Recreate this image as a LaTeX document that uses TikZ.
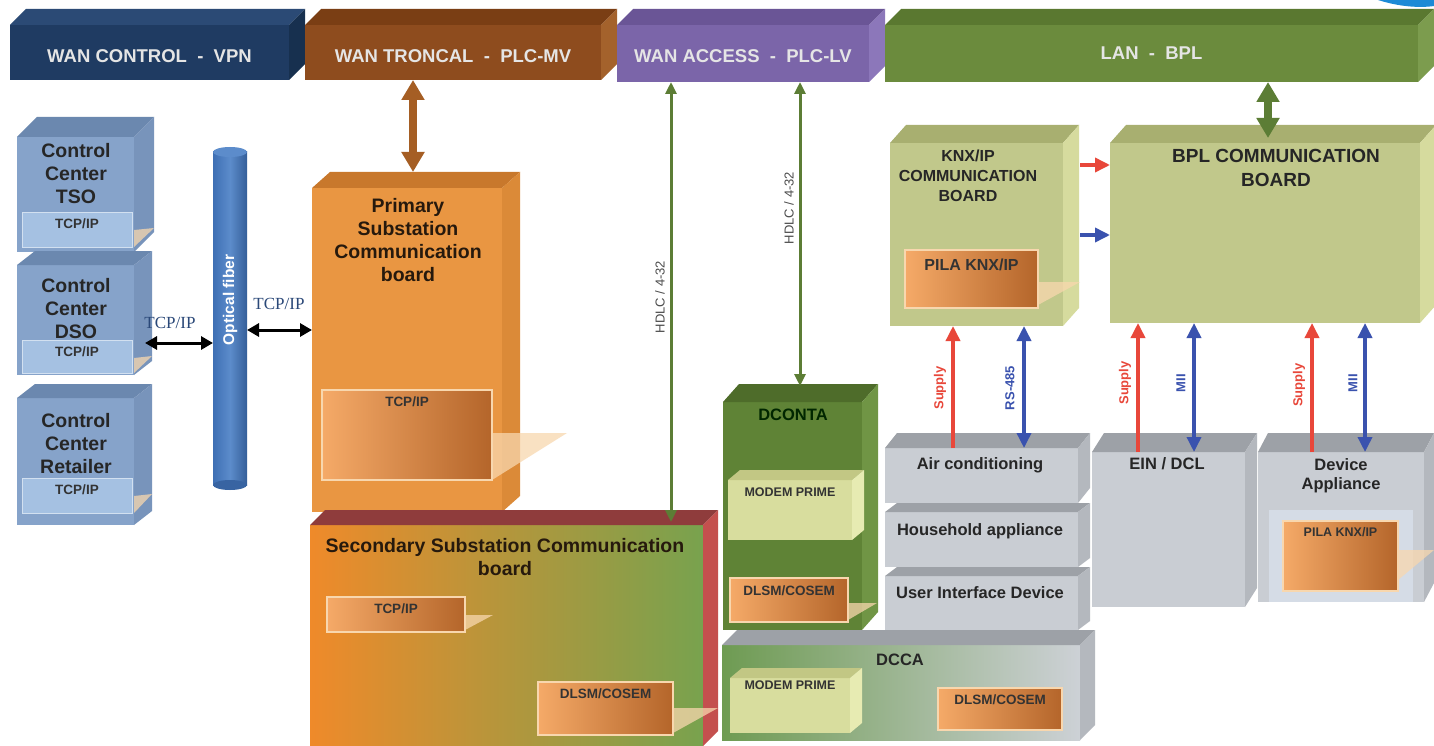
\documentclass[tikz,border=0pt]{standalone}
\usepackage{fontspec}
\setmainfont{Liberation Sans}
\newfontfamily\timesfont{Liberation Serif}
\usetikzlibrary{arrows.meta,calc}

\definecolor{navyF}{HTML}{1F3B62}
\definecolor{navyT}{HTML}{2B4A75}
\definecolor{navyS}{HTML}{17304F}
\definecolor{brownF}{HTML}{8E4C1E}
\definecolor{brownT}{HTML}{7A3E14}
\definecolor{brownS}{HTML}{A4622C}
\definecolor{purpF}{HTML}{7B65A9}
\definecolor{purpT}{HTML}{6A5596}
\definecolor{purpS}{HTML}{8C77BA}
\definecolor{lanF}{HTML}{6B8B3D}
\definecolor{lanT}{HTML}{5A7830}
\definecolor{lanS}{HTML}{7C9C4E}
\definecolor{ccF}{HTML}{86A3CA}
\definecolor{ccT}{HTML}{6B88AF}
\definecolor{ccS}{HTML}{7894BB}
\definecolor{ccSub}{HTML}{A5C1E2}
\definecolor{fibF}{HTML}{3E6FB4}
\definecolor{fibT}{HTML}{5C8CCB}
\definecolor{primF}{HTML}{E99642}
\definecolor{primT}{HTML}{C8782C}
\definecolor{primS}{HTML}{DB8A38}
\definecolor{subL}{HTML}{F5AA68}
\definecolor{subD}{HTML}{B4652A}
\definecolor{subE}{HTML}{F8D7AE}
\definecolor{secL}{HTML}{EF8A2A}
\definecolor{secR}{HTML}{78A24E}
\definecolor{secT}{HTML}{8F3C3C}
\definecolor{secS}{HTML}{C4504E}
\definecolor{dcF}{HTML}{5F8336}
\definecolor{dcT}{HTML}{4E6C2A}
\definecolor{dcS}{HTML}{709545}
\definecolor{modF}{HTML}{D8DD9E}
\definecolor{modT}{HTML}{C2C784}
\definecolor{modS}{HTML}{E7EBB2}
\definecolor{ccaL}{HTML}{6E9B52}
\definecolor{ccaR}{HTML}{CDD1D6}
\definecolor{greyF}{HTML}{C9CDD3}
\definecolor{greyT}{HTML}{9DA1A7}
\definecolor{greyS}{HTML}{B4B8BE}
\definecolor{greyIn}{HTML}{D5DCE6}
\definecolor{knxF}{HTML}{C1C88B}
\definecolor{knxT}{HTML}{A8AF70}
\definecolor{knxS}{HTML}{D6DB9E}
\definecolor{arrBrown}{HTML}{A55E24}
\definecolor{arrGreen}{HTML}{5C7D35}
\definecolor{supRed}{HTML}{E8473A}
\definecolor{dataBlue}{HTML}{3A52AE}
\definecolor{tcpBlue}{HTML}{2A4878}
\definecolor{logoBlue}{HTML}{1C8AD6}

\newcommand{\boxfaces}[5]{%
  \fill[#2] (#1.north west) -- ++(#4,-#5) -- ($(#1.north east)+(#4,-#5)$) -- (#1.north east) -- cycle;
  \fill[#3] (#1.north east) -- ++(#4,-#5) -- ($(#1.south east)+(#4,-#5)$) -- (#1.south east) -- cycle;
}

\tikzset{
  face/.style={inner sep=0pt, outer sep=0pt, anchor=north west},
  wh/.style 2 args={minimum width=#1, minimum height=#2},
  bantext/.style={text=white!90!black, font=\bfseries\fontsize{18.5}{22}\selectfont},
  bigtext/.style={anchor=north, inner sep=0pt, align=center, font=\bfseries\fontsize{19.5}{23}\selectfont},
  midtext/.style={anchor=north, inner sep=0pt, align=center, text=black!85, font=\bfseries\fontsize{16.5}{19}\selectfont},
  subtext/.style={anchor=north, inner sep=0pt, text=black!80, font=\bfseries\fontsize{13.5}{15}\selectfont},
  modtext/.style={anchor=north, inner sep=0pt, text=black!80, font=\bfseries\fontsize{12.5}{14}\selectfont},
  subbox/.style={face, left color=subL, right color=subD, draw=subE, line width=1.2pt},
  ccbox/.style={face, fill=ccSub, draw=ccSub!50!white, line width=1pt},
  tab/.style={fill=subE, opacity=.75},
  fat/.style={line width=8pt, {Triangle[width=22pt,length=20pt]}-{Triangle[width=22pt,length=20pt]}},
  hdlc/.style={arrGreen, line width=3pt, {Triangle[width=11pt,length=12pt]}-{Triangle[width=11pt,length=12pt]}},
  supply/.style={supRed, line width=3.5pt, -{Triangle[width=14pt,length=15pt]}},
  data/.style={dataBlue, line width=3.5pt, {Triangle[width=14pt,length=15pt]}-{Triangle[width=14pt,length=15pt]}},
  dataone/.style={dataBlue, line width=3.5pt, -{Triangle[width=14pt,length=15pt]}},
  tcparr/.style={black, line width=3pt, {Triangle[width=13pt,length=12pt]}-{Triangle[width=13pt,length=12pt]}},
  tcplabel/.style={text=tcpBlue, font=\timesfont\fontsize{17}{19}\selectfont},
  vlabel/.style={rotate=90, font=\bfseries\fontsize{13}{15}\selectfont},
  hdlctext/.style={rotate=90, text=black!70, font=\fontsize{13}{15}\selectfont}
}

\begin{document}
\begin{tikzpicture}[x=1pt, y=-1pt]
   \useasboundingbox (0,0) rectangle (1434,746);
   \fill[white] (0,0) rectangle (1434,746);
   \fill[logoBlue] (1378,0) .. controls (1400,7) and (1420,8) .. (1434,6) -- (1434,0) -- cycle;

   \node[face, wh={279}{55}, fill=navyF, bantext, text height=20pt] (wanctl) at (10,25) {WAN CONTROL~~-~~VPN};
   \boxfaces{wanctl}{navyT}{navyS}{16}{16}
   \node[face, wh={296}{55}, fill=brownF, bantext, text height=20pt] (wantr) at (305,25) {WAN TRONCAL~~-~~PLC-MV};
   \boxfaces{wantr}{brownT}{brownS}{16}{16}
   \node[face, wh={252}{57}, fill=purpF, bantext, text height=19pt] (wanacc) at (617,25) {WAN ACCESS~~-~~PLC-LV};
   \boxfaces{wanacc}{purpT}{purpS}{16}{16}
   \node[face, wh={533}{57}, fill=lanF, bantext] (lan) at (885,25) {LAN~~-~~BPL};
   \boxfaces{lan}{lanT}{lanS}{16}{16}

   \node[face, wh={117}{115}, fill=ccF] (tso) at (17,137) {};
   \boxfaces{tso}{ccT}{ccS}{20}{20}
   \node[bigtext, text=black!85] (tsotxt) at (76,143) {Control\\Center\\TSO};
   \node[ccbox, wh={110}{35}] (tsoip) at (22,212) {};
   \node[subtext] (tsoiptxt) at ([yshift=-7pt]tsoip.north) {TCP/IP};

   \node[face, wh={117}{110}, fill=ccF] (dso) at (17,265) {};
   \boxfaces{dso}{ccT}{ccS}{18}{14}
   \node[bigtext, text=black!85] (dsotxt) at (76,278) {Control\\Center\\DSO};
   \node[ccbox, wh={110}{33}] (dsoip) at (22,340) {};
   \node[subtext] (dsoiptxt) at ([yshift=-7pt]dsoip.north) {TCP/IP};

   \node[face, wh={117}{127}, fill=ccF] (ret) at (17,398) {};
   \boxfaces{ret}{ccT}{ccS}{18}{14}
   \node[bigtext, text=black!85] (rettxt) at (76,413) {Control\\Center\\Retailer};
   \node[ccbox, wh={110}{35}] (retip) at (22,478) {};
   \node[subtext] (retiptxt) at ([yshift=-7pt]retip.north) {TCP/IP};

   \fill[tab] (134,230) -- (154,228) -- (134,247) -- cycle;
   \fill[tab] (134,358) -- (152,356) -- (134,373) -- cycle;
   \fill[tab] (134,496) -- (152,494) -- (134,513) -- cycle;

   \node[face, wh={34}{333}, left color=fibF, right color=fibF!85!black, middle color=fibT] (fiber) at (213,152) {};
   \fill[fibF!90!black] (fiber.south) ellipse (17 and 5);
   \fill[fibT] (fiber.north) ellipse (17 and 5);
   \node[rotate=90, text=white, font=\bfseries\fontsize{15.5}{17}\selectfont] (fibtxt) at (230,300) {Optical fiber};

   \node[face, wh={190}{324}, fill=primF] (prim) at (312,188) {};
   \boxfaces{prim}{primT}{primS}{18}{16}
   \node[bigtext, text=black!80!brown] (primtxt) at (408,198) {Primary\\Substation\\Communication\\board};
   \node[subbox, wh={170}{90}] (primip) at (322,390) {};
   \node[subtext] (primiptxt) at ([yshift=-7pt]primip.north) {TCP/IP};
   \fill[tab] (492,433) -- (567,433) -- (492,480) -- cycle;

   \node[face, wh={393}{221}, left color=secL, right color=secR] (sec) at (310,525) {};
   \boxfaces{sec}{secT}{secS}{15}{15}
   \node[bigtext, text=black!80!brown] (sectxt) at (505,538) {Secondary Substation Communication\\board};
   \node[subbox, wh={138}{35}] (secip) at (327,597) {};
   \node[subtext] (seciptxt) at ([yshift=-7pt]secip.north) {TCP/IP};
   \fill[tab] (465,615) -- (493,615) -- (465,630) -- cycle;
   \node[subbox, wh={135}{53}] (secdlsm) at (538,682) {};
   \node[subtext] (secdlsmtxt) at ([yshift=-7pt]secdlsm.north) {DLSM/COSEM};
   \fill[tab] (673,708) -- (718,708) -- (673,733) -- cycle;

   \node[face, wh={139}{228}, fill=dcF] (dconta) at (723,402) {};
   \boxfaces{dconta}{dcT}{dcS}{16}{18}
   \node[midtext, text=black!85!green] (dcontatxt) at (793,409) {DCONTA};
   \node[face, wh={124}{60}, fill=modF] (dcmod) at (728,480) {};
   \boxfaces{dcmod}{modT}{modS}{12}{10}
   \node[modtext] (dcmodtxt) at (790,488) {MODEM PRIME};
   \node[subbox, wh={118}{44}] (dcdlsm) at (730,578) {};
   \node[subtext] (dcdlsmtxt) at ([yshift=-8pt]dcdlsm.north) {DLSM/COSEM};
   \fill[tab] (848,603) -- (877,603) -- (848,620) -- cycle;

   \node[face, wh={193}{55}, fill=greyF] (aircon) at (885,448) {};
   \boxfaces{aircon}{greyT}{greyS}{12}{15}
   \node[midtext] (aircontxt) at (980,457) {Air conditioning};
   \node[face, wh={193}{55}, fill=greyF] (house) at (885,512) {};
   \boxfaces{house}{greyT}{greyS}{12}{9}
   \node[midtext] (housetxt) at (980,523) {Household appliance};
   \node[face, wh={193}{54}, fill=greyF] (uid) at (885,576) {};
   \boxfaces{uid}{greyT}{greyS}{12}{9}
   \node[midtext] (uidtxt) at (980,586) {User Interface Device};

   \node[face, wh={153}{155}, fill=greyF] (ein) at (1092,452) {};
   \boxfaces{ein}{greyT}{greyS}{12}{19}
   \node[midtext] (eintxt) at (1167,457) {EIN / DCL};

   \node[face, wh={166}{150}, fill=greyF] (devapp) at (1258,452) {};
   \boxfaces{devapp}{greyT}{greyS}{10}{19}
   \node[midtext] (devapptxt) at (1341,458) {Device\\Appliance};
   \node[face, wh={144}{92}, fill=greyIn] (devin) at (1269,510) {};
   \node[subbox, wh={115}{70}] (devpila) at (1283,521) {};
   \node[modtext] (devpilatxt) at ([yshift=-6pt]devpila.north) {PILA KNX/IP};
   \fill[tab] (1398,550) -- (1434,550) -- (1398,580) -- cycle;

   \node[face, wh={358}{95}, left color=ccaL, right color=ccaR] (dcca) at (722,645) {};
   \boxfaces{dcca}{greyT}{greyS}{15}{15}
   \node[midtext] (dccatxt) at (900,654) {DCCA};
   \node[face, wh={120}{55}, fill=modF] (ccamod) at (730,678) {};
   \boxfaces{ccamod}{modT}{modS}{12}{10}
   \node[modtext] (ccamodtxt) at (790,681) {MODEM PRIME};
   \node[subbox, wh={124}{42}] (ccadlsm) at (938,688) {};
   \node[subtext] (ccadlsmtxt) at ([yshift=-7pt]ccadlsm.north) {DLSM/COSEM};

   \node[face, wh={173}{183}, fill=knxF] (knx) at (890,143) {};
   \boxfaces{knx}{knxT}{knxS}{16}{18}
   \node[midtext, font=\bfseries\fontsize{16}{20}\selectfont] (knxtxt) at (968,150) {KNX/IP\\COMMUNICATION\\BOARD};
   \node[subbox, wh={133}{58}] (knxpila) at (905,250) {};
   \node[subtext, font=\bfseries\fontsize{16}{18}\selectfont] (knxpilatxt) at ([yshift=-9pt]knxpila.north) {PILA KNX/IP};
   \fill[tab] (1038,282) -- (1080,282) -- (1038,305) -- cycle;

   \node[face, wh={310}{180}, fill=knxF] (bpl) at (1110,143) {};
   \boxfaces{bpl}{knxT}{knxS}{16}{18}
   \node[midtext, font=\bfseries\fontsize{19}{24}\selectfont] (bpltxt) at (1276,149) {BPL COMMUNICATION\\BOARD};

   \coordinate (tr) at (413,0);
   \draw[fat, arrBrown] (wantr.south -| tr) -- ($(prim.north -| tr)+(0,-16)$);
   \coordinate (lb) at (1268,0);
   \draw[fat, arrGreen] (lan.south -| lb) -- ($(bpl.north -| lb)+(0,-5)$);

   \coordinate (hd1) at (671,0);
   \draw[hdlc] (wanacc.south -| hd1) -- ($(sec.north -| hd1)+(0,-3)$);
   \node[hdlctext] (hd1txt) at (660,297) {HDLC / 4-32};
   \coordinate (hd2) at (800,0);
   \draw[hdlc] (wanacc.south -| hd2) -- ($(dconta.north -| hd2)+(0,-16)$);
   \node[hdlctext] (hd2txt) at (789,208) {HDLC / 4-32};

   \coordinate (ccport) at (145,343);
   \draw[tcparr] (ccport) -- (fiber.west |- ccport);
   \node[tcplabel] (tcp1) at (170,323) {TCP/IP};
   \coordinate (fibport) at (0,330);
   \draw[tcparr] (fiber.east |- fibport) -- (prim.west |- fibport);
   \node[tcplabel] (tcp2) at (279,304) {TCP/IP};

   \coordinate (knxred) at (1080,165);
   \draw[supply] (knxred) -- (bpl.west |- knxred);
   \coordinate (knxblue) at (1080,235);
   \draw[dataone] (knxblue) -- (bpl.west |- knxblue);

   \coordinate (s1) at (953,0);
   \draw[supply] (aircon.north -| s1) -- (knx.south -| s1);
   \node[vlabel, text=supRed] (s1txt) at (940,388) {Supply};
   \coordinate (d1) at (1024,0);
   \draw[data] (aircon.north -| d1) -- (knx.south -| d1);
   \node[vlabel, text=dataBlue] (d1txt) at (1010,388) {RS-485};

   \coordinate (s2) at (1138,0);
   \draw[supply] (ein.north -| s2) -- (bpl.south -| s2);
   \node[vlabel, text=supRed] (s2txt) at (1125,383) {Supply};
   \coordinate (d2) at (1194,0);
   \draw[data] (ein.north -| d2) -- (bpl.south -| d2);
   \node[vlabel, text=dataBlue] (d2txt) at (1181,383) {MII};

   \coordinate (s3) at (1312,0);
   \draw[supply] (devapp.north -| s3) -- (bpl.south -| s3);
   \node[vlabel, text=supRed] (s3txt) at (1299,385) {Supply};
   \coordinate (d3) at (1365,0);
   \draw[data] (devapp.north -| d3) -- (bpl.south -| d3);
   \node[vlabel, text=dataBlue] (d3txt) at (1353,383) {MII};
\end{tikzpicture}
\end{document}
